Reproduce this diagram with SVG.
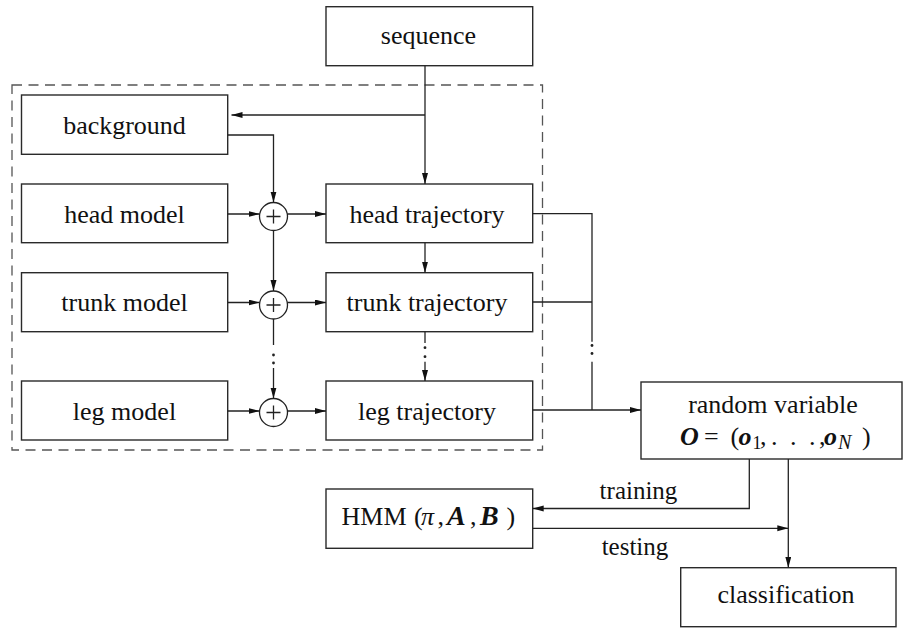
<svg xmlns="http://www.w3.org/2000/svg" width="904" height="628" viewBox="0 0 904 628">
<style>
.box{fill:#fff;stroke:#2a2a2a;stroke-width:1.4}
.edge{fill:none;stroke:#222;stroke-width:1.3}
.sum{fill:#fff;stroke:#222;stroke-width:1.3}
.dot{fill:#222}
.frame{fill:none;stroke:#555;stroke-width:1.3;stroke-dasharray:10 6.5}
</style>
<defs>
<marker id="arr" markerUnits="userSpaceOnUse" markerWidth="12" markerHeight="7" refX="11" refY="3" orient="auto">
<path d="M0,0 L11,3 L0,6 z" fill="#111"/>
</marker>
</defs>

<rect class="frame" x="12" y="85" width="530.5" height="365"/>

<g font-family="Liberation Serif, serif" font-size="26" fill="#111">
<g id="sequence"><rect class="box" x="326" y="6.7" width="206.7" height="59"/><text x="428.5" y="44" text-anchor="middle">sequence</text></g>
<g id="background"><rect class="box" x="21.5" y="95" width="206.2" height="59.3"/><text x="124.5" y="133.5" text-anchor="middle">background</text></g>
<g id="head_model"><rect class="box" x="21.5" y="184" width="206.2" height="58.7"/><text x="124.5" y="222.7" text-anchor="middle">head model</text></g>
<g id="trunk_model"><rect class="box" x="21.5" y="272.7" width="206.2" height="59"/><text x="124.5" y="311.3" text-anchor="middle">trunk model</text></g>
<g id="leg_model"><rect class="box" x="21.5" y="381" width="206.2" height="59"/><text x="124.5" y="419.5" text-anchor="middle">leg model</text></g>
<g id="head_trajectory"><rect class="box" x="326" y="184" width="206.7" height="58.7"/><text x="427" y="222.7" text-anchor="middle">head trajectory</text></g>
<g id="trunk_trajectory"><rect class="box" x="326" y="272.7" width="206.7" height="59"/><text x="427" y="311.3" text-anchor="middle">trunk trajectory</text></g>
<g id="leg_trajectory"><rect class="box" x="326" y="381" width="206.7" height="59"/><text x="427" y="419.5" text-anchor="middle">leg trajectory</text></g>
<g id="sum1"><circle class="sum" cx="273.5" cy="216.5" r="14"/><path class="edge" d="M266.5,216.5 H280.5 M273.5,209.5 V223.5" stroke-width="1"/></g>
<g id="sum2"><circle class="sum" cx="273.5" cy="305" r="14"/><path class="edge" d="M266.5,305 H280.5 M273.5,298 V312" stroke-width="1"/></g>
<g id="sum3"><circle class="sum" cx="273.5" cy="412.5" r="14"/><path class="edge" d="M266.5,412.5 H280.5 M273.5,405.5 V419.5" stroke-width="1"/></g>
<g id="random_variable"><rect class="box" x="641" y="382" width="261" height="77"/>
<text x="773" y="413" text-anchor="middle">random variable</text>
<text y="444.7"><tspan font-weight="bold" font-style="italic" x="680">O</tspan><tspan x="704">=</tspan><tspan x="730.5">(</tspan><tspan font-weight="bold" font-style="italic" x="738.5">o</tspan><tspan font-size="18" x="752.5" y="448.5">1</tspan><tspan x="760" y="444.7">,</tspan><tspan x="771 790 809">...</tspan><tspan x="819">,</tspan><tspan font-weight="bold" font-style="italic" x="824">o</tspan><tspan font-size="20" font-style="italic" x="838" y="449">N</tspan><tspan x="862" y="444.7">)</tspan></text>
</g>
<g id="hmm"><rect class="box" x="326" y="489" width="206.7" height="59.3"/>
<text y="525"><tspan x="341.5">HMM</tspan><tspan x="414">(</tspan><tspan font-style="italic" x="421">π</tspan><tspan x="437.5">,</tspan><tspan font-weight="bold" font-style="italic" font-size="28" x="447">A</tspan><tspan x="470">,</tspan><tspan font-weight="bold" font-style="italic" font-size="28" x="480">B</tspan><tspan x="506.5">)</tspan></text>
</g>
<g id="classification"><rect class="box" x="680.7" y="567.7" width="215.3" height="59"/><text x="786" y="603.3" text-anchor="middle">classification</text></g>
</g>

<g id="connectors">
<path class="edge" d="M425,65.7 V184" marker-end="url(#arr)"/>
<path class="edge" d="M425,115 H231.5" marker-end="url(#arr)"/>
<path class="edge" d="M227.7,135 H273.5 V202.5" marker-end="url(#arr)"/>
<path class="edge" d="M227.7,214 H259.5" marker-end="url(#arr)"/>
<path class="edge" d="M287.5,214 H326" marker-end="url(#arr)"/>
<path class="edge" d="M273.5,230.5 V291" marker-end="url(#arr)"/>
<path class="edge" d="M227.7,302.5 H259.5" marker-end="url(#arr)"/>
<path class="edge" d="M287.5,302.5 H326" marker-end="url(#arr)"/>
<path class="edge" d="M273.5,319 V345"/>
<circle class="dot" cx="273.5" cy="355" r="1.4"/><circle class="dot" cx="273.5" cy="363" r="1.4"/>
<path class="edge" d="M273.5,368 V398.5" marker-end="url(#arr)"/>
<path class="edge" d="M227.7,411 H259.5" marker-end="url(#arr)"/>
<path class="edge" d="M287.5,411 H326" marker-end="url(#arr)"/>
<path class="edge" d="M425,242.7 V272.7" marker-end="url(#arr)"/>
<path class="edge" d="M425,331.7 V343"/>
<circle class="dot" cx="425" cy="347.7" r="1.4"/><circle class="dot" cx="425" cy="356.7" r="1.4"/>
<path class="edge" d="M425,361.7 V381" marker-end="url(#arr)"/>
<path class="edge" d="M532.7,213.7 H592 V341.7"/>
<circle class="dot" cx="592" cy="345.5" r="1.4"/><circle class="dot" cx="592" cy="353.5" r="1.4"/>
<path class="edge" d="M592,361.7 V410"/>
<path class="edge" d="M532.7,302 H592"/>
<path class="edge" d="M532.7,410 H641" marker-end="url(#arr)"/>
<path class="edge" d="M749.3,459 V508.5 H532.7" marker-end="url(#arr)"/>
<path class="edge" d="M532.7,528.3 H788.3" marker-end="url(#arr)"/>
<path class="edge" d="M788.3,459 V567.7" marker-end="url(#arr)"/>
<text x="638.5" y="499.3" text-anchor="middle" font-family="Liberation Serif, serif" font-size="25" fill="#111">training</text>
<text x="635" y="555" text-anchor="middle" font-family="Liberation Serif, serif" font-size="25" fill="#111">testing</text>
</g>
</svg>
